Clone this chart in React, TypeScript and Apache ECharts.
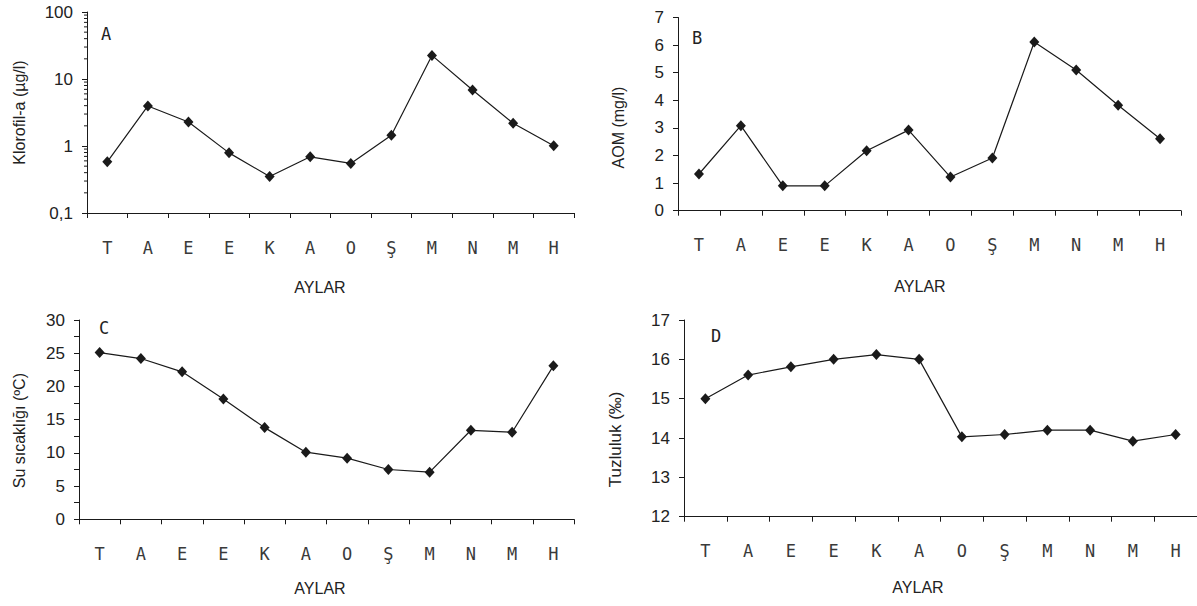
import React, { useEffect, useRef } from "react";
import * as echarts from "echarts";

const months = ["T", "A", "E", "E", "K", "A", "O", "Ş", "M", "N", "M", "H"];
const klorofil = [0.58, 3.96, 2.28, 0.79, 0.35, 0.69, 0.55, 1.45, 22.5, 6.85, 2.18, 1.01];
const aom = [1.33, 3.08, 0.9, 0.9, 2.17, 2.92, 1.22, 1.91, 6.11, 5.1, 3.82, 2.61];
const suSicakligi = [25.1, 24.2, 22.2, 18.1, 13.8, 10.1, 9.2, 7.5, 7.1, 13.4, 13.1, 23.1];
const tuzluluk = [15.0, 15.6, 15.81, 16.0, 16.12, 16.0, 14.03, 14.09, 14.2, 14.2, 13.92, 14.09];
const logMinorTicks = [0.2, 0.3, 0.4, 0.5, 0.6, 0.7, 0.8, 0.9, 2, 3, 4, 5, 6, 7, 8, 9, 20, 30, 40, 50, 60, 70, 80, 90];

const INK = "#1a1a1a";
const SANS = "'Liberation Sans', Arial, sans-serif";
const NAME_FONT = "'Liberation Sans', Arial, sans-serif";
const MONO = "'DejaVu Sans Mono', monospace";

export default function App() {
  const ref = useRef<HTMLDivElement>(null);
  useEffect(() => {
    if (!ref.current) return;
    const chart = echarts.init(ref.current, null, { renderer: "svg" });

    const grids = [
      { left: 87, top: 12, width: 487, height: 201 },
      { left: 678, top: 17.5, width: 503, height: 193.2 },
      { left: 79, top: 320, width: 495, height: 199.3 },
      { left: 684, top: 320, width: 517, height: 196.7 },
    ];
    const xNameGap = [66, 68, 61, 63];
    const xNameShift = [21, 19, 13, 45];

    const xAxes = grids.map((_, i) => ({
      type: "category",
      gridIndex: i,
      data: months,
      boundaryGap: true,
      name: "AYLAR",
      nameLocation: "middle",
      nameGap: xNameGap[i],
      nameTextStyle: { fontFamily: NAME_FONT, fontSize: 16, color: "#222", padding: [0, xNameShift[i], 0, 0] },
      axisLine: { show: true, lineStyle: { color: INK, width: 1 } },
      axisTick: { show: true, alignWithLabel: false, length: 5, lineStyle: { color: INK } },
      axisLabel: { fontFamily: MONO, fontSize: 17, color: "#3a3a3a", margin: 26, interval: 0 },
      splitLine: { show: false },
    }));

    const yCommon = (i: number) => ({
      gridIndex: i,
      nameLocation: "middle",
      axisLine: { show: true, lineStyle: { color: INK, width: 1 } },
      axisTick: { show: true, length: 5, inside: false, lineStyle: { color: INK } },
      axisLabel: { fontFamily: SANS, fontSize: 17, color: "#222", margin: 14 },
      splitLine: { show: false },
    });

    const yAxes = [
      {
        ...yCommon(0),
        type: "log",
        logBase: 10,
        min: 0.1,
        max: 100,
        name: "Klorofil-a (µg/l)",
        nameGap: 60,
        nameTextStyle: { fontFamily: NAME_FONT, fontSize: 16, color: "#222" },
        axisLabel: {
          fontFamily: SANS, fontSize: 17, color: "#222", margin: 14,
          formatter: (v: number) => String(v).replace(".", ","),
        },
      },
      {
        ...yCommon(1),
        type: "value",
        min: 0,
        max: 7,
        interval: 1,
        name: "AOM (mg/l)",
        nameGap: 52,
        nameTextStyle: { fontFamily: NAME_FONT, fontSize: 16, color: "#222", padding: [0, 27, 0, 0] },
      },
      {
        ...yCommon(2),
        type: "value",
        min: 0,
        max: 30,
        interval: 5,
        name: "Su sıcaklığı (ºC)",
        nameGap: 52,
        nameTextStyle: { fontFamily: NAME_FONT, fontSize: 16, color: "#222", padding: [0, 22, 0, 0] },
        minorTick: { show: true, splitNumber: 2, length: 5, lineStyle: { color: INK } },
      },
      {
        ...yCommon(3),
        type: "value",
        min: 12,
        max: 17,
        interval: 1,
        name: "Tuzluluk (‰)",
        nameGap: 60,
        nameTextStyle: { fontFamily: NAME_FONT, fontSize: 17, color: "#222", padding: [0, 42, 0, 0] },
      },
    ];

    const lineSeries = (i: number, data: number[]) => ({
      type: "line",
      xAxisIndex: i,
      yAxisIndex: i,
      data,
      symbol: "diamond",
      symbolSize: [10, 11],
      showSymbol: true,
      lineStyle: { color: INK, width: 1.2 },
      itemStyle: { color: INK },
      z: 5,
    });

    const option: any = {
      animation: false,
      backgroundColor: "#fff",
      grid: grids,
      xAxis: xAxes,
      yAxis: yAxes,
      series: [
        lineSeries(0, klorofil),
        lineSeries(1, aom),
        lineSeries(2, suSicakligi),
        lineSeries(3, tuzluluk),
        {
          type: "custom",
          xAxisIndex: 0,
          yAxisIndex: 0,
          silent: true,
          clip: false,
          data: logMinorTicks.map((v) => [0, v]),
          renderItem: (params: any, api: any) => {
            const pt = api.coord([0, api.value(1)]);
            const half = api.size([1, 0])[0] / 2;
            const x = pt[0] - half;
            return {
              type: "line",
              shape: { x1: x - 3, y1: pt[1], x2: x, y2: pt[1] },
              style: { stroke: INK, lineWidth: 1 },
            };
          },
        },
      ],
      graphic: [
        { type: "text", left: 101, top: 25, style: { text: "A", font: `17px ${MONO}`, fill: "#222" } },
        { type: "text", left: 692, top: 29, style: { text: "B", font: `17px ${MONO}`, fill: "#222" } },
        { type: "text", left: 99, top: 319, style: { text: "C", font: `17px ${MONO}`, fill: "#222" } },
        { type: "text", left: 711, top: 327, style: { text: "D", font: `17px ${MONO}`, fill: "#222" } },
      ],
    };

    chart.setOption(option);
    return () => chart.dispose();
  }, []);

  return (
    <div
      ref={ref}
      style={{ position: "fixed", left: 0, top: 0, width: 1197, height: 606, background: "#fff" }}
    />
  );
}
